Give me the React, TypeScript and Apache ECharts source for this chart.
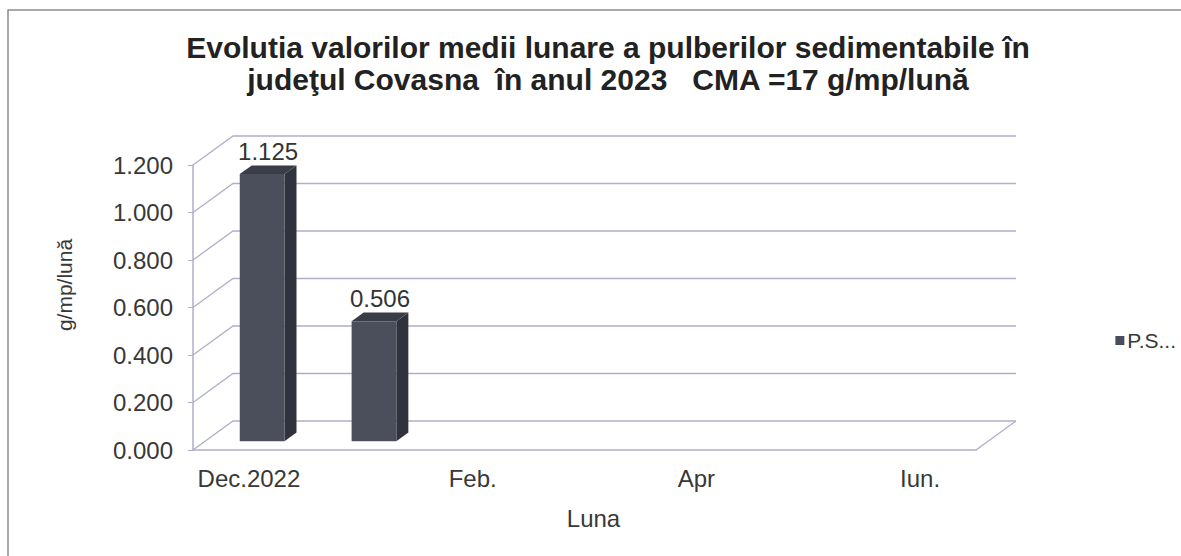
import React, { useEffect, useRef } from "react";
import * as echarts from "echarts";

const categories = ["Dec.2022", "Ian.", "Feb.", "Mar.", "Apr", "Mai", "Iun."];
const psValues: (number | null)[] = [1.125, 0.506, null, null, null, null, null];
const yTicks = [0, 0.2, 0.4, 0.6, 0.8, 1.0, 1.2];
const seriesName = "P.S...";
const titleText =
  "Evolutia valorilor medii lunare a pulberilor sedimentabile în\njudeţul Covasna  în anul 2023   CMA =17 g/mp/lună";
const yAxisTitle = "g/mp/lună";
const xAxisTitle = "Luna";

const DX = 40;
const DY = -29;
const FONT = '"Liberation Sans", Arial, sans-serif';
const GRID_COLOR = "#aeb0c8";
const TEXT_COLOR = "#383838";

export default function App() {
  const ref = useRef<HTMLDivElement>(null);

  useEffect(() => {
    if (!ref.current) return;
    const chart = echarts.init(ref.current, undefined, { renderer: "svg" });

    const barData = psValues
      .map((v, i) => [i, v])
      .filter((d) => d[1] != null);
    const wallData = yTicks.map((t) => [0, t]);

    const option: any = {
      animation: false,
      backgroundColor: "#ffffff",
      title: {
        text: titleText,
        left: 603,
        textAlign: "center",
        top: 26,
        textStyle: {
          fontFamily: FONT,
          fontSize: 30,
          fontWeight: "bold",
          color: "#222222",
          lineHeight: 32,
        },
      },
      legend: {
        data: [{ name: seriesName, icon: "rect" }],
        right: 0,
        top: 325,
        itemWidth: 9,
        itemHeight: 9,
        itemGap: 4,
        textStyle: { fontFamily: FONT, fontSize: 21, color: TEXT_COLOR, padding: [0, 0, 0, -2] },
      },
      grid: { left: 193, right: 205, top: 165, bottom: 106, containLabel: false },
      xAxis: {
        type: "category",
        data: categories,
        name: xAxisTitle,
        nameLocation: "middle",
        nameGap: 56,
        nameTextStyle: { fontFamily: FONT, fontSize: 24, color: TEXT_COLOR, padding: [0, 0, 0, 18] },
        axisLine: { show: true, lineStyle: { color: GRID_COLOR, width: 1.5 } },
        axisTick: { show: false },
        axisLabel: {
          interval: 1,
          margin: 16,
          fontFamily: FONT,
          fontSize: 24,
          color: TEXT_COLOR,
        },
        splitLine: { show: false },
      },
      yAxis: {
        type: "value",
        min: 0,
        max: 1.2,
        interval: 0.2,
        axisLine: { show: true, lineStyle: { color: GRID_COLOR, width: 1.5 } },
        axisTick: { show: true, length: 5, lineStyle: { color: GRID_COLOR } },
        axisLabel: {
          margin: 20,
          fontFamily: FONT,
          fontSize: 24,
          color: TEXT_COLOR,
          formatter: (v: number) => v.toFixed(3),
        },
        splitLine: { show: false },
      },
      graphic: [
        {
          type: "rect",
          shape: { x: 8, y: 10, width: 1200, height: 600 },
          style: { fill: "none", stroke: "#8c8c8c", lineWidth: 1.5 },
          silent: true,
        },
        {
          type: "text",
          x: 64,
          y: 285,
          rotation: Math.PI / 2,
          style: {
            text: yAxisTitle,
            textAlign: "center",
            textVerticalAlign: "middle",
            font: `21px ${FONT}`,
            fill: TEXT_COLOR,
          },
        },
      ],
      series: [
        {
          name: "walls",
          type: "custom",
          clip: false,
          silent: true,
          z: 1,
          data: wallData,
          renderItem: (params: any, api: any) => {
            const v = api.value(1);
            const band = api.size([1, 0])[0];
            const p = api.coord([0, v]);
            const pr = api.coord([categories.length - 1, v]);
            const xl = p[0] - band / 2;
            const xr = pr[0] + band / 2;
            const y = p[1];
            const children: any[] = [
              {
                type: "polyline",
                shape: {
                  points: [
                    [xl, y],
                    [xl + DX, y + DY],
                    [xr + DX, y + DY],
                  ],
                },
                style: { stroke: GRID_COLOR, fill: "none", lineWidth: 1.3 },
              },
            ];
            if (v === 0) {
              children.push({
                type: "line",
                shape: { x1: xr, y1: y, x2: xr + DX, y2: y + DY },
                style: { stroke: GRID_COLOR, lineWidth: 1.3 },
              });
            }
            return { type: "group", children };
          },
        },
        {
          name: seriesName,
          type: "custom",
          clip: false,
          z: 3,
          itemStyle: { color: "#4a4e5c" },
          data: barData,
          renderItem: (params: any, api: any) => {
            const cat = api.value(0);
            const v = api.value(1);
            const band = api.size([1, 0])[0];
            const p0 = api.coord([cat, 0]);
            const p1 = api.coord([cat, v]);
            const w = band * 0.4;
            const ox = DX * 0.33;
            const oy = DY * 0.3;
            const dx = DX * 0.3;
            const dy = DY * 0.3;
            const xL = p0[0] - w / 2 + ox;
            const xR = xL + w;
            const yB = p0[1] + oy;
            const yT = p1[1] + oy;
            return {
              type: "group",
              children: [
                {
                  type: "polygon",
                  shape: {
                    points: [
                      [xR, yT],
                      [xR + dx, yT + dy],
                      [xR + dx, yB + dy],
                      [xR, yB],
                    ],
                  },
                  style: { fill: "#30333d" },
                },
                {
                  type: "polygon",
                  shape: {
                    points: [
                      [xL, yT],
                      [xL + dx, yT + dy],
                      [xR + dx, yT + dy],
                      [xR, yT],
                    ],
                  },
                  style: { fill: "#3a3d48" },
                },
                {
                  type: "rect",
                  shape: { x: xL, y: yT, width: w, height: yB - yT },
                  style: { fill: "#4b4f5c" },
                },
                {
                  type: "text",
                  x: xL + w / 2 + dx / 2,
                  y: yT + dy - 2,
                  style: {
                    text: v.toFixed(3),
                    textAlign: "center",
                    textVerticalAlign: "bottom",
                    font: `24px ${FONT}`,
                    fill: "#333333",
                  },
                },
              ],
            };
          },
        },
      ],
    };

    chart.setOption(option);
    return () => chart.dispose();
  }, []);

  return (
    <div
      ref={ref}
      style={{
        position: "fixed",
        left: 0,
        top: 0,
        width: 1181,
        height: 556,
        background: "#fff",
      }}
    />
  );
}
